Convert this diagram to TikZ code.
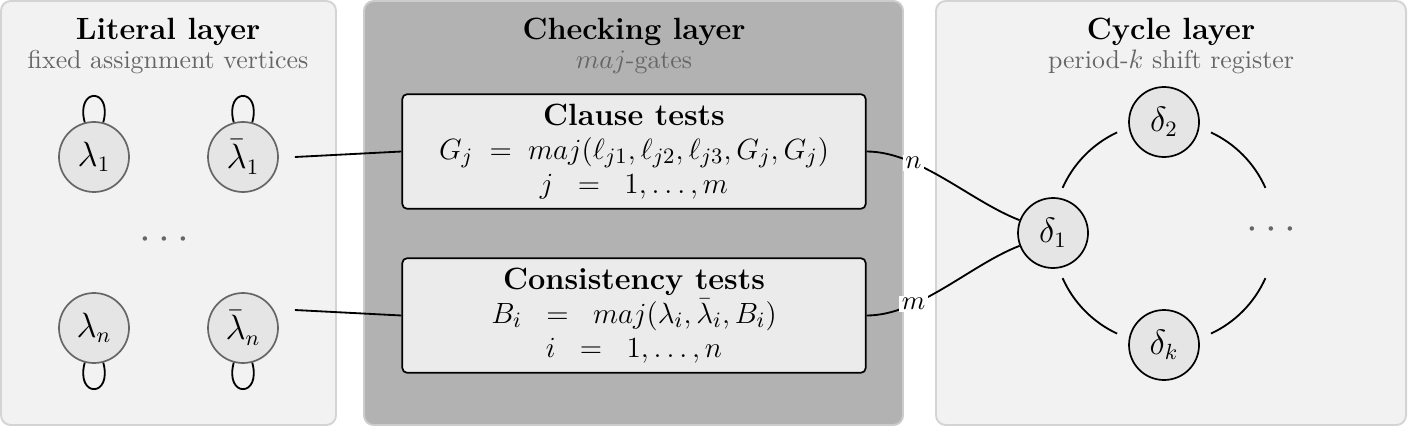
\documentclass[tikz,border=0pt,11pt]{standalone}
\usepackage{amsmath,amssymb}
\usetikzlibrary{positioning}

\begin{document}
\begin{tikzpicture}[x=4.1pt, y=4.1pt,
	layer/.style={draw=black!17, line width=0.8pt, rounded corners=4pt},
	ltitle/.style={font=\fontsize{12.6}{15}\bfseries\selectfont},
	lsub/.style={text=black!60, font=\fontsize{10.6}{13}\selectfont},
	lit/.style={circle, draw=black!60, line width=0.7pt, fill=black!10, minimum size=28.7pt, inner sep=0pt, font=\fontsize{13.5}{16}\selectfont},
	cyc/.style={circle, draw=black, line width=0.7pt, fill=black!10, minimum size=28.7pt, inner sep=0pt, font=\fontsize{13.5}{16}\selectfont},
	test/.style={draw, line width=0.7pt, fill=black!8, rounded corners=2pt, minimum width=190pt, minimum height=47pt, align=center, font=\fontsize{12.6}{14}\selectfont},
	wire/.style={line width=0.75pt},
	lab/.style={fill=white, inner sep=1pt},
	dotsnode/.style={text=black!60, font=\LARGE},
	selfup/.style={out=105, in=75, min distance=15pt},
	selfdown/.style={out=-105, in=-75, min distance=15pt}]
	\useasboundingbox (0,0) rectangle (140.8,42.6);
	% three layers
	\draw[layer, fill=black!5] (0.1,0.1) rectangle (33.6,42.5);
	\draw[layer, fill=black!30, draw=black!20] (36.4,0.1) rectangle (90.3,42.5);
	\draw[layer, fill=black!5] (93.6,0.1) rectangle (140.6,42.5);
	\node[ltitle] (tlit) at (16.8,39.4) {Literal layer};
	\node[lsub] (slit) at (16.8,36.4) {fixed assignment vertices};
	\node[ltitle] (tchk) at (63.4,39.4) {Checking layer};
	\node[lsub] (schk) at (63.4,36.4) {$maj$-gates};
	\node[ltitle] (tcyc) at (117.1,39.4) {Cycle layer};
	\node[lsub] (scyc) at (117.1,36.4) {period-$k$ shift register};
	% literal vertices
	\node[lit] (l1) at (9.4,26.9) {$\lambda_1$};
	\node[lit] (lb1) at (24.3,26.9) {$\bar{\lambda}_1$};
	\node[lit] (ln) at (9.4,9.8) {$\lambda_n$};
	\node[lit] (lbn) at (24.3,9.8) {$\bar{\lambda}_n$};
	\node[dotsnode] (ldots) at (16.8,18.6) {$\cdots$};
	\draw[wire] (l1) to[selfup] (l1);
	\draw[wire] (lb1) to[selfup] (lb1);
	\draw[wire] (ln) to[selfdown] (ln);
	\draw[wire] (lbn) to[selfdown] (lbn);
	% gates
	\node[test] (clause) at (63.4,27.45) {\textbf{Clause tests}\\ $G_j \;=\; maj(\ell_{j1},\ell_{j2},\ell_{j3},G_j,G_j)$\\ $j \;\;=\;\; 1,\ldots,m$};
	\node[test] (cons) at (63.4,11.05) {\textbf{Consistency tests}\\ $B_i \;\;=\;\; maj(\lambda_i,\bar{\lambda}_i,B_i)$\\ $i \;\;=\;\; 1,\ldots,n$};
	\draw[wire] ([shift={(1.6,0)}]lb1.east) -- (clause.west);
	\draw[wire] ([shift={(1.6,1.8)}]lbn.east) -- (cons.west);
	% cycle
	\node[cyc] (d1) at (105.3,19.3) {$\delta_1$};
	\node[cyc] (d2) at (116.4,30.4) {$\delta_2$};
	\node[cyc] (dk) at (116.4,8.1) {$\delta_k$};
	\node[dotsnode] (cdots) at (127.5,19.6) {$\cdots$};
	\coordinate (ring) at (116.4,19.3);
	\foreach \a/\b in {156/115, 65/24, -24/-65, -115/-156}
		\draw[wire] ([shift={(\a:11.1)}]ring) arc[start angle=\a, end angle=\b, radius=11.1];
	\draw[wire] (clause.east) to[out=0, in=159, looseness=0.8] node[lab, pos=0.3] {$n$} (d1);
	\draw[wire] (cons.east) to[out=0, in=201, looseness=0.8] node[lab, pos=0.3] {$m$} (d1);
\end{tikzpicture}
\end{document}
